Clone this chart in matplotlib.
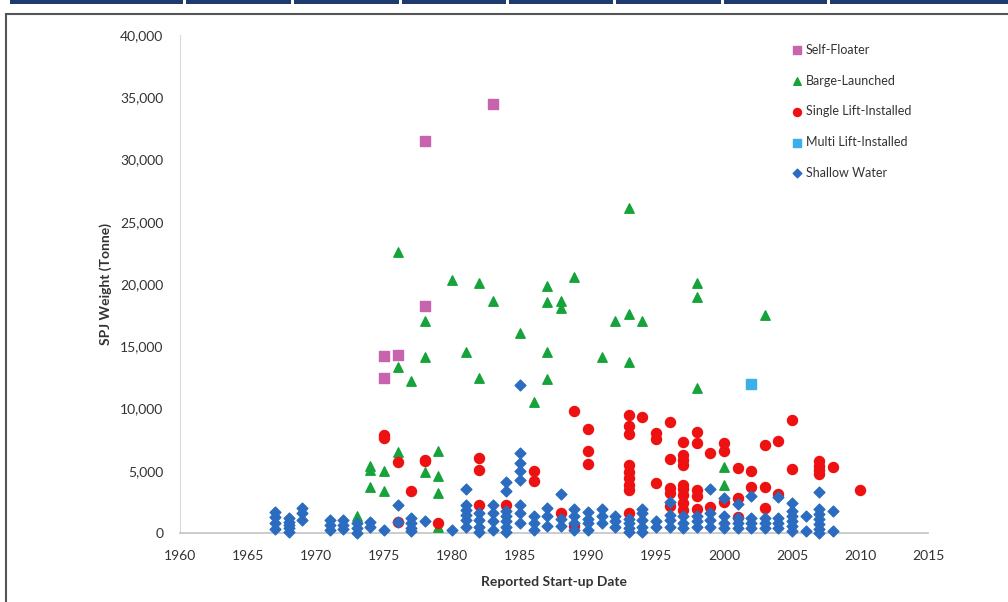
import matplotlib.pyplot as plt
from matplotlib.patches import Rectangle
from matplotlib.ticker import FuncFormatter

# Self-Floater
sf_year = [1975, 1975, 1976, 1978, 1978, 1983]
sf_wt = [14210, 12420, 14270, 31500, 18250, 34450]

# Barge-Launched
bl_year = [1973, 1974, 1974, 1974, 1975, 1975, 1976, 1976, 1976, 1977,
           1978, 1978, 1978, 1979, 1979, 1979, 1979, 1980, 1981, 1982,
           1982, 1983, 1985, 1986, 1987, 1987, 1987, 1987, 1988, 1988,
           1989, 1991, 1992, 1993, 1993, 1993, 1994, 1998, 1998, 1998,
           2000, 2000, 2003]
bl_wt = [1370, 5400, 5060, 3670, 4980, 3400, 22590, 13300, 6530, 12230,
         17050, 14160, 4920, 6610, 4580, 3190, 500, 20300, 14530, 20100,
         12470, 18630, 16040, 10540, 19830, 18520, 14510, 12370, 18650, 18040,
         20530, 14160, 17050, 26070, 17590, 13710, 17050, 20050, 18930, 11620,
         5320, 3850, 17500]

# Single Lift-Installed
sl_year = [1975, 1975, 1976, 1976, 1977, 1978, 1978, 1979, 1982, 1982,
           1982, 1984, 1986, 1986, 1988, 1989, 1989, 1990, 1990, 1990,
           1993, 1993, 1993, 1993, 1993, 1993, 1993, 1993, 1993, 1994,
           1995, 1995, 1995, 1996, 1996, 1996, 1996, 1996, 1997, 1997,
           1997, 1997, 1997, 1997, 1997, 1997, 1997, 1998, 1998, 1998,
           1998, 1998, 1999, 1999, 2000, 2000, 2000, 2001, 2001, 2001,
           2002, 2002, 2003, 2003, 2003, 2004, 2004, 2005, 2005, 2007,
           2007, 2007, 2007, 2008, 2010]
sl_wt = [7900, 7600, 5700, 910, 3400, 5900, 5750, 780, 6000, 5060,
         2250, 2250, 5000, 4200, 1600, 9800, 600, 8330, 6580, 5510,
         9470, 8590, 7920, 5460, 4920, 4390, 3850, 3450, 1580, 9340,
         8000, 7520, 3990, 8940, 5920, 3640, 3240, 2200, 7330, 6260,
         5860, 5460, 3850, 3510, 3050, 2430, 1850, 8130, 7250, 3450,
         2970, 1900, 6450, 2110, 7200, 6610, 2510, 5200, 2820, 1310,
         5000, 3700, 7070, 3670, 1980, 7360, 3130, 9070, 5120, 5800,
         5400, 5100, 4700, 5300, 3450]

# Multi Lift-Installed
ml_year = [2002]
ml_wt = [11960]

# Shallow Water
sw_year = [1967, 1967, 1967, 1967, 1968, 1968, 1968, 1968, 1968, 1969,
           1969, 1969, 1971, 1971, 1971, 1972, 1972, 1972, 1973, 1973,
           1973, 1974, 1974, 1975, 1976, 1976, 1977, 1977, 1977, 1977,
           1978, 1980, 1981, 1981, 1981, 1981, 1981, 1981, 1982, 1982,
           1982, 1982, 1983, 1983, 1983, 1983, 1984, 1984, 1984, 1984,
           1984, 1984, 1984, 1985, 1985, 1985, 1985, 1985, 1985, 1985,
           1985, 1986, 1986, 1986, 1987, 1987, 1987, 1988, 1988, 1988,
           1989, 1989, 1989, 1989, 1990, 1990, 1990, 1990, 1991, 1991,
           1991, 1992, 1992, 1992, 1993, 1993, 1993, 1993, 1994, 1994,
           1994, 1994, 1994, 1995, 1995, 1996, 1996, 1996, 1996, 1997,
           1997, 1997, 1998, 1998, 1998, 1999, 1999, 1999, 1999, 2000,
           2000, 2000, 2000, 2001, 2001, 2001, 2001, 2002, 2002, 2002,
           2002, 2003, 2003, 2003, 2004, 2004, 2004, 2004, 2005, 2005,
           2005, 2005, 2005, 2005, 2006, 2006, 2007, 2007, 2007, 2007,
           2007, 2007, 2007, 2008, 2008]
sw_wt = [1700, 1250, 800, 350, 1180, 910, 640, 380, 100, 1980,
         1580, 1040, 1040, 640, 240, 1040, 640, 320, 780, 380,
         30, 900, 500, 240, 2250, 900, 1180, 780, 400, 150,
         990, 240, 3500, 2250, 1850, 1450, 1050, 500, 1600, 1040,
         510, 110, 2250, 1600, 930, 240, 4120, 3400, 1760, 1360,
         930, 510, 110, 11880, 6400, 5600, 5000, 4250, 2250, 1600,
         800, 1360, 800, 240, 1990, 1330, 600, 3100, 1140, 600,
         1930, 1360, 800, 240, 1690, 1140, 800, 240, 1930, 1360,
         800, 1360, 930, 510, 1140, 800, 400, 110, 1930, 1600,
         1040, 510, 110, 930, 510, 2510, 1450, 1040, 510, 1360,
         800, 400, 1360, 930, 510, 3500, 1600, 1040, 510, 2830,
         1360, 800, 400, 2300, 1230, 830, 430, 2960, 1230, 830,
         430, 1230, 830, 430, 2900, 1230, 830, 430, 2380, 1770,
         1370, 970, 560, 160, 1370, 190, 3270, 1960, 1560, 1160,
         750, 350, 0, 1790, 190]

plt.rcParams['font.family'] = ['Lato', 'DejaVu Sans']

fig = plt.figure(figsize=(10.08, 6.02), dpi=100)
ax = fig.add_axes([180 / 1008, 69 / 602, 748 / 1008, 498 / 602])

ax.scatter(sf_year, sf_wt, marker='s', s=46, color='#C863AE', label='Self-Floater', clip_on=False, zorder=3)
ax.scatter(bl_year, bl_wt, marker='^', s=46, color='#16A33A', label='Barge-Launched', clip_on=False, zorder=3)
ax.scatter(sl_year, sl_wt, marker='o', s=52, color='#EE1111', label='Single Lift-Installed', clip_on=False, zorder=3)
ax.scatter(ml_year, ml_wt, marker='s', s=46, color='#3AAFEA', label='Multi Lift-Installed', clip_on=False, zorder=3)
ax.scatter(sw_year, sw_wt, marker='D', s=30, color='#2B6CC0', label='Shallow Water', clip_on=False, zorder=4)

ax.set_xlim(1960, 2015)
ax.set_ylim(0, 40000)
ax.set_xticks(range(1960, 2016, 5))
ax.set_yticks(range(0, 40001, 5000))
ax.yaxis.set_major_formatter(FuncFormatter(lambda v, p: f'{v:,.0f}'))
ax.tick_params(axis='y', length=0, labelsize=10, labelcolor='#333333', pad=12)
ax.tick_params(axis='x', length=0, labelsize=10, labelcolor='#333333', pad=12)

for s in ['top', 'right']:
    ax.spines[s].set_visible(False)
ax.spines['left'].set_color('#D9D9D9')
ax.spines['bottom'].set_color('#C8C8C8')
ax.spines['bottom'].set_linewidth(1.3)

ax.set_xlabel('Reported Start-up Date', fontsize=10, fontweight='bold', color='#333333', labelpad=10)
ax.set_ylabel('SPJ Weight (Tonne)', fontsize=10, fontweight='bold', color='#333333', labelpad=6)

leg = ax.legend(loc='upper left', bbox_to_anchor=(0.80, 1.005), frameon=False, fontsize=9,
                labelspacing=1.5, handletextpad=0.1, handlelength=1.2, scatterpoints=1,
                markerscale=0.8, labelcolor='#333333')

# page decorations: table header strip and outer frame
for x0, x1 in [(10, 183), (186, 291), (294, 399), (402, 506), (509, 613),
               (616, 721), (724, 827), (830, 1008)]:
    fig.add_artist(Rectangle((x0 / 1008, 1 - 4 / 602), (x1 - x0) / 1008, 4 / 602,
                             transform=fig.transFigure, color='#1F3A6E', lw=0))
fig.add_artist(Rectangle((6 / 1008, -0.02), 1.02, 1.02 - 14 / 602, transform=fig.transFigure,
                         fill=False, edgecolor='#555555', lw=1.5))

fig.savefig('out.png', dpi=100)
